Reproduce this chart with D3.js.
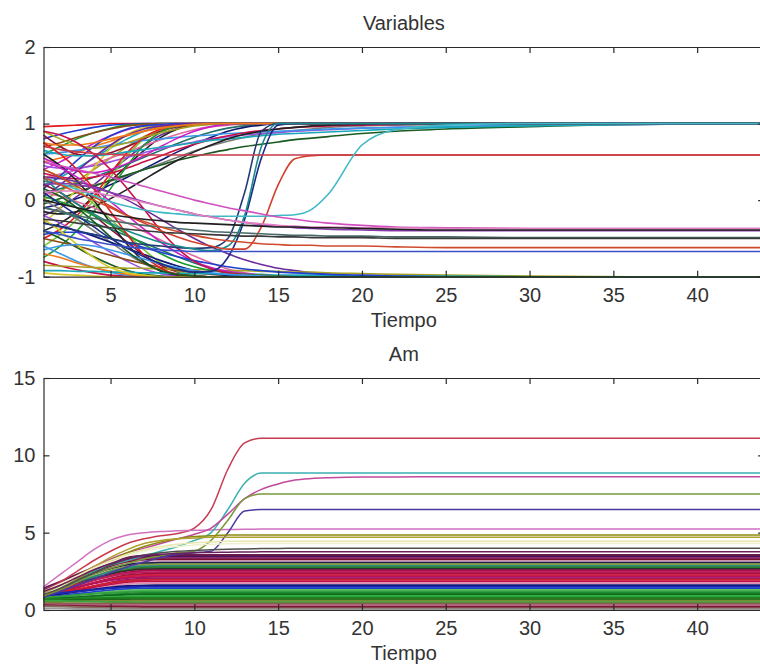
<!DOCTYPE html>
<html>
<head>
<meta charset="utf-8">
<script src="https://cdn.jsdelivr.net/npm/d3@7"></script>
<style>
  body { margin: 0; background: #fff; }
  svg { display: block; }
  .axis text { font-family: 'Liberation Sans', Arial, sans-serif; font-size: 20px; fill: #333; }
  .axis path, .axis line { stroke: #2a2a2a; stroke-width: 1.2px; }
  .label { font-family: 'Liberation Sans', Arial, sans-serif; font-size: 20px; fill: #333; text-anchor: middle; }
</style>
</head>
<body>
<svg width="760" height="671"></svg>
<script>
// time steps shared by every series
var tiempo = [1,2,3,4,5,6,7,8, 9,10,11,12,13,14,15,16, 17,18,20,22,25,30,36,44];
var xTicks = [5,10,15,20,25,30,35,40];
var varTicks = [-1,0,1,2];
var amTicks = [0,5,10,15];

// "Variables": series that go to +1
var varRise = [
  [0.96,0.97,0.98,0.99,1,1,1,1, 1,1,1,1,1,1,1,1, 1,1,1,1,1,1,1,1],
  [0.8,0.86,0.91,0.95,0.98,0.99,1,1, 1,1,1,1,1,1,1,1, 1,1,1,1,1,1,1,1],
  [0.6,0.7,0.8,0.88,0.94,0.98,0.99,1, 1,1,1,1,1,1,1,1, 1,1,1,1,1,1,1,1],
  [0.4,0.5,0.62,0.74,0.84,0.92,0.97,0.99, 1,1,1,1,1,1,1,1, 1,1,1,1,1,1,1,1],
  [0.2,0.3,0.42,0.55,0.68,0.8,0.9,0.96, 0.99,1,1,1,1,1,1,1, 1,1,1,1,1,1,1,1],
  [0,0.12,0.25,0.4,0.55,0.7,0.83,0.92, 0.97,0.99,1,1,1,1,1,1, 1,1,1,1,1,1,1,1],
  [-0.2,-0.1,0.05,0.2,0.38,0.55,0.72,0.85, 0.94,0.98,1,1,1,1,1,1, 1,1,1,1,1,1,1,1],
  [-0.4,-0.3,-0.15,0.05,0.25,0.45,0.65,0.82, 0.93,0.98,1,1,1,1,1,1, 1,1,1,1,1,1,1,1],
  [0.5,0.55,0.62,0.7,0.77,0.84,0.9,0.95, 0.98,0.99,1,1,1,1,1,1, 1,1,1,1,1,1,1,1],
  [0.3,0.34,0.4,0.47,0.55,0.63,0.71,0.79, 0.86,0.92,0.96,0.98,0.99,1,1,1, 1,1,1,1,1,1,1,1],
  [0.1,0.15,0.22,0.3,0.38,0.47,0.56,0.65, 0.74,0.82,0.89,0.94,0.97,0.99,1,1, 1,1,1,1,1,1,1,1],
  [-0.1,-0.05,0.02,0.1,0.2,0.3,0.41,0.52, 0.63,0.73,0.82,0.9,0.95,0.98,1,1, 1,1,1,1,1,1,1,1],
  [0.7,0.75,0.82,0.88,0.93,0.97,0.99,1, 1,1,1,1,1,1,1,1, 1,1,1,1,1,1,1,1],
  [-0.6,-0.45,-0.25,0,0.3,0.58,0.8,0.93, 0.98,1,1,1,1,1,1,1, 1,1,1,1,1,1,1,1],
  [0.85,0.7,0.6,0.58,0.62,0.7,0.8,0.9, 0.96,0.99,1,1,1,1,1,1, 1,1,1,1,1,1,1,1],
  [0.25,0.2,0.18,0.2,0.25,0.32,0.4,0.48, 0.56,0.64,0.71,0.77,0.82,0.86,0.89,0.91, 0.93,0.95,0.97,0.98,0.99,1,1,1],
  [0.45,0.42,0.42,0.45,0.5,0.56,0.62,0.67, 0.72,0.76,0.8,0.83,0.85,0.87,0.88,0.9, 0.91,0.92,0.94,0.95,0.96,0.98,0.99,1],
  [-0.05,0.02,0.1,0.18,0.26,0.33,0.4,0.46, 0.52,0.57,0.62,0.66,0.7,0.73,0.76,0.79, 0.81,0.83,0.87,0.9,0.93,0.96,0.99,1],
  [0.6,0.62,0.65,0.68,0.72,0.75,0.78,0.8, 0.82,0.84,0.85,0.87,0.88,0.89,0.9,0.91, 0.92,0.93,0.94,0.95,0.96,0.98,0.99,1],
  [0.35,0.3,0.28,0.3,0.35,0.42,0.5,0.58, 0.66,0.73,0.79,0.84,0.88,0.91,0.93,0.95, 0.96,0.97,0.98,0.99,1,1,1,1],
  [-0.3,-0.1,0.15,0.42,0.68,0.86,0.95,0.99, 1,1,1,1,1,1,1,1, 1,1,1,1,1,1,1,1],
  [-0.5,-0.38,-0.2,0.05,0.35,0.62,0.82,0.93, 0.98,1,1,1,1,1,1,1, 1,1,1,1,1,1,1,1],
  [0.15,0.32,0.52,0.7,0.84,0.93,0.97,0.99, 1,1,1,1,1,1,1,1, 1,1,1,1,1,1,1,1],
  [-0.75,-0.6,-0.4,-0.15,0.15,0.45,0.72,0.89, 0.97,0.99,1,1,1,1,1,1, 1,1,1,1,1,1,1,1],
  [0.55,0.45,0.38,0.36,0.4,0.48,0.58,0.7, 0.81,0.9,0.96,0.99,1,1,1,1, 1,1,1,1,1,1,1,1],
  [0.65,0.6,0.58,0.58,0.6,0.63,0.66,0.69, 0.72,0.75,0.78,0.8,0.82,0.84,0.86,0.87, 0.88,0.89,0.91,0.93,0.95,0.97,0.99,1],
  [0.9,0.8,0.72,0.68,0.7,0.75,0.82,0.88, 0.93,0.97,0.99,1,1,1,1,1, 1,1,1,1,1,1,1,1],
  [0.05,0.2,0.38,0.56,0.72,0.85,0.93,0.97, 0.99,1,1,1,1,1,1,1, 1,1,1,1,1,1,1,1],
  [-0.15,-0.18,-0.15,-0.08,0.02,0.14,0.27,0.4, 0.52,0.63,0.72,0.8,0.86,0.9,0.93,0.95, 0.97,0.98,0.99,1,1,1,1,1],
  [0.75,0.72,0.72,0.75,0.8,0.85,0.9,0.94, 0.97,0.99,1,1,1,1,1,1, 1,1,1,1,1,1,1,1]
];

// "Variables": series that go to -1
var varFall = [
  [-0.95,-0.97,-0.98,-0.99,-1,-1,-1,-1, -1,-1,-1,-1,-1,-1,-1,-1, -1,-1,-1,-1,-1,-1,-1,-1],
  [-0.8,-0.86,-0.91,-0.95,-0.98,-0.99,-1,-1, -1,-1,-1,-1,-1,-1,-1,-1, -1,-1,-1,-1,-1,-1,-1,-1],
  [-0.6,-0.7,-0.8,-0.88,-0.94,-0.98,-0.99,-1, -1,-1,-1,-1,-1,-1,-1,-1, -1,-1,-1,-1,-1,-1,-1,-1],
  [-0.4,-0.5,-0.62,-0.74,-0.84,-0.92,-0.97,-0.99, -1,-1,-1,-1,-1,-1,-1,-1, -1,-1,-1,-1,-1,-1,-1,-1],
  [-0.2,-0.3,-0.42,-0.55,-0.68,-0.8,-0.9,-0.96, -0.99,-1,-1,-1,-1,-1,-1,-1, -1,-1,-1,-1,-1,-1,-1,-1],
  [0,-0.12,-0.25,-0.4,-0.55,-0.7,-0.83,-0.92, -0.97,-0.99,-1,-1,-1,-1,-1,-1, -1,-1,-1,-1,-1,-1,-1,-1],
  [0.2,0.1,-0.05,-0.2,-0.38,-0.55,-0.72,-0.85, -0.94,-0.98,-1,-1,-1,-1,-1,-1, -1,-1,-1,-1,-1,-1,-1,-1],
  [0.4,0.3,0.15,-0.05,-0.25,-0.45,-0.65,-0.82, -0.93,-0.98,-1,-1,-1,-1,-1,-1, -1,-1,-1,-1,-1,-1,-1,-1],
  [-0.5,-0.55,-0.6,-0.66,-0.72,-0.78,-0.83,-0.88, -0.92,-0.95,-0.97,-0.98,-0.99,-1,-1,-1, -1,-1,-1,-1,-1,-1,-1,-1],
  [-0.3,-0.34,-0.4,-0.47,-0.55,-0.63,-0.71,-0.79, -0.86,-0.92,-0.96,-0.98,-0.99,-1,-1,-1, -1,-1,-1,-1,-1,-1,-1,-1],
  [-0.1,-0.15,-0.22,-0.3,-0.38,-0.47,-0.56,-0.65, -0.74,-0.82,-0.89,-0.94,-0.97,-0.99,-1,-1, -1,-1,-1,-1,-1,-1,-1,-1],
  [0.1,0.05,-0.02,-0.1,-0.2,-0.3,-0.41,-0.52, -0.63,-0.73,-0.82,-0.9,-0.95,-0.98,-1,-1, -1,-1,-1,-1,-1,-1,-1,-1],
  [-0.7,-0.75,-0.82,-0.88,-0.93,-0.97,-0.99,-1, -1,-1,-1,-1,-1,-1,-1,-1, -1,-1,-1,-1,-1,-1,-1,-1],
  [0.6,0.45,0.25,0,-0.3,-0.58,-0.8,-0.93, -0.98,-1,-1,-1,-1,-1,-1,-1, -1,-1,-1,-1,-1,-1,-1,-1],
  [0.3,0.28,0.24,0.18,0.1,0,-0.12,-0.25, -0.38,-0.5,-0.61,-0.7,-0.78,-0.84,-0.89,-0.92, -0.95,-0.97,-0.99,-1,-1,-1,-1,-1],
  [-0.85,-0.86,-0.87,-0.88,-0.88,-0.89,-0.89,-0.9, -0.9,-0.91,-0.91,-0.92,-0.92,-0.93,-0.93,-0.94, -0.94,-0.95,-0.96,-0.97,-0.98,-0.99,-1,-1],
  [-0.92,-0.92,-0.93,-0.93,-0.94,-0.94,-0.95,-0.95, -0.96,-0.96,-0.96,-0.97,-0.97,-0.97,-0.98,-0.98, -0.98,-0.98,-0.99,-0.99,-0.99,-1,-1,-1],
  [0.5,0.42,0.3,0.15,-0.02,-0.2,-0.38,-0.55, -0.69,-0.8,-0.88,-0.93,-0.96,-0.98,-0.99,-1, -1,-1,-1,-1,-1,-1,-1,-1],
  [0.05,-0.02,-0.1,-0.2,-0.32,-0.45,-0.58,-0.7, -0.8,-0.87,-0.92,-0.95,-0.97,-0.98,-0.99,-1, -1,-1,-1,-1,-1,-1,-1,-1],
  [-0.45,-0.42,-0.42,-0.45,-0.5,-0.56,-0.62,-0.68, -0.74,-0.79,-0.83,-0.87,-0.9,-0.92,-0.94,-0.95, -0.96,-0.97,-0.98,-0.99,-1,-1,-1,-1],
  [0.75,0.6,0.4,0.15,-0.15,-0.45,-0.72,-0.89, -0.97,-0.99,-1,-1,-1,-1,-1,-1, -1,-1,-1,-1,-1,-1,-1,-1],
  [-0.25,-0.4,-0.58,-0.75,-0.88,-0.95,-0.98,-1, -1,-1,-1,-1,-1,-1,-1,-1, -1,-1,-1,-1,-1,-1,-1,-1],
  [0.9,0.85,0.75,0.6,0.4,0.15,-0.12,-0.4, -0.63,-0.8,-0.9,-0.95,-0.98,-0.99,-1,-1, -1,-1,-1,-1,-1,-1,-1,-1],
  [-0.65,-0.6,-0.58,-0.6,-0.65,-0.71,-0.77,-0.83, -0.88,-0.92,-0.95,-0.97,-0.98,-0.99,-1,-1, -1,-1,-1,-1,-1,-1,-1,-1],
  [0.15,0.05,-0.1,-0.28,-0.48,-0.67,-0.82,-0.92, -0.97,-0.99,-1,-1,-1,-1,-1,-1, -1,-1,-1,-1,-1,-1,-1,-1]
];

// "Variables": late switchers and intermediate values
var varMid = [
  [0.1,-0.05,-0.2,-0.35,-0.5,-0.63,-0.74,-0.83, -0.9,-0.94,-0.93,-0.75,-0.25,0.55,0.98,1, 1,1,1,1,1,1,1,1],
  [-0.3,-0.35,-0.4,-0.45,-0.5,-0.55,-0.58,-0.6, -0.62,-0.63,-0.62,-0.5,0.1,0.9,1,1, 1,1,1,1,1,1,1,1],
  [0.3,0.1,-0.05,-0.18,-0.3,-0.4,-0.48,-0.55, -0.6,-0.64,-0.66,-0.6,-0.2,0.7,1,1, 1,1,1,1,1,1,1,1],
  [0.4,0.3,0.18,0.05,-0.08,-0.2,-0.3,-0.4, -0.48,-0.55,-0.6,-0.64,-0.64,-0.35,0.2,0.54, 0.58,0.59,0.59,0.59,0.59,0.59,0.59,0.59],
  [0.7,0.66,0.63,0.61,0.6,0.59,0.59,0.59, 0.59,0.59,0.59,0.59,0.59,0.59,0.59,0.59, 0.59,0.59,0.59,0.59,0.59,0.59,0.59,0.59],
  [0.3,0.22,0.14,0.06,-0.02,-0.08,-0.13,-0.16, -0.18,-0.2,-0.21,-0.21,-0.21,-0.21,-0.2,-0.19, -0.12,0.08,0.72,0.92,0.98,1,1,1],
  [0.5,0.45,0.4,0.35,0.3,0.24,0.18,0.12, 0.06,0,-0.05,-0.1,-0.14,-0.18,-0.22,-0.25, -0.28,-0.3,-0.33,-0.35,-0.36,-0.37,-0.37,-0.37],
  [0.2,0.22,0.2,0.16,0.1,0.04,-0.02,-0.08, -0.13,-0.18,-0.22,-0.26,-0.29,-0.32,-0.34,-0.36, -0.37,-0.38,-0.39,-0.4,-0.4,-0.4,-0.4,-0.4],
  [-0.1,-0.15,-0.2,-0.24,-0.27,-0.3,-0.33,-0.35, -0.37,-0.39,-0.41,-0.42,-0.43,-0.44,-0.45,-0.46, -0.46,-0.47,-0.47,-0.48,-0.48,-0.49,-0.49,-0.49],
  [0.3,0.2,0.1,0,-0.1,-0.2,-0.28,-0.35, -0.41,-0.46,-0.5,-0.53,-0.55,-0.57,-0.58,-0.59, -0.59,-0.6,-0.6,-0.61,-0.62,-0.62,-0.62,-0.62],
  [-0.4,-0.45,-0.5,-0.54,-0.58,-0.61,-0.63,-0.65, -0.66,-0.67,-0.67,-0.67,-0.67,-0.67,-0.67,-0.67, -0.67,-0.67,-0.67,-0.67,-0.67,-0.67,-0.67,-0.67],
  [-0.25,-0.27,-0.3,-0.33,-0.36,-0.38,-0.4,-0.42, -0.43,-0.44,-0.45,-0.46,-0.47,-0.47,-0.48,-0.48, -0.49,-0.49,-0.49,-0.5,-0.5,-0.5,-0.5,-0.5],
  [0.1,0.12,0.12,0.1,0.06,0.02,-0.03,-0.08, -0.13,-0.18,-0.22,-0.26,-0.29,-0.31,-0.33,-0.34, -0.35,-0.35,-0.36,-0.36,-0.37,-0.37,-0.37,-0.37],
  [0,-0.05,-0.1,-0.15,-0.19,-0.22,-0.25,-0.27, -0.29,-0.3,-0.31,-0.32,-0.33,-0.34,-0.35,-0.35, -0.36,-0.36,-0.37,-0.38,-0.39,-0.39,-0.39,-0.39]
];

// "Am": the few series that climb high
var amUpper = [
  [1.2,1.8,2.5,3.2,3.8,4.3,4.6,4.8, 4.95,5.3,6.5,9.1,10.8,11.1,11.1,11.1, 11.1,11.1,11.1,11.1,11.1,11.1,11.1,11.1],
  [1.5,2.3,3.1,3.9,4.5,4.85,5,5.08, 5.12,5.15,5.18,5.2,5.22,5.23,5.24,5.24, 5.24,5.24,5.24,5.24,5.24,5.24,5.24,5.24],
  [1,1.5,2,2.5,2.9,3.2,3.5,3.8, 4.1,4.5,5,6.5,8.2,8.85,8.85,8.85, 8.85,8.85,8.85,8.85,8.85,8.85,8.85,8.85],
  [1.1,1.6,2.2,2.8,3.3,3.7,4,4.3, 4.6,4.9,5.3,6.2,7.2,7.8,8.15,8.4, 8.5,8.55,8.6,8.6,8.62,8.62,8.62,8.62],
  [0.9,1.3,1.8,2.3,2.7,3,3.3,3.5, 3.7,3.8,4.5,5.8,7.2,7.5,7.5,7.5, 7.5,7.5,7.5,7.5,7.5,7.5,7.5,7.5],
  [0.8,1.2,1.6,2,2.4,2.8,3.1,3.4, 3.6,3.7,3.8,5,6.4,6.5,6.5,6.5, 6.5,6.5,6.5,6.5,6.5,6.5,6.5,6.5],
  [0.9,1.4,2,2.6,3.2,3.7,4.1,4.4, 4.6,4.75,4.8,4.85,4.85,4.85,4.85,4.85, 4.85,4.85,4.85,4.85,4.85,4.85,4.85,4.85],
  [1.1,1.6,2.2,2.8,3.4,3.9,4.3,4.5, 4.6,4.65,4.7,4.7,4.7,4.7,4.7,4.7, 4.7,4.7,4.7,4.7,4.7,4.7,4.7,4.7],
  [1,1.5,2.1,2.7,3.2,3.6,3.9,4.1, 4.25,4.35,4.4,4.45,4.45,4.45,4.45,4.45, 4.45,4.45,4.45,4.45,4.45,4.45,4.45,4.45],
  [1.2,1.7,2.2,2.7,3.1,3.5,3.8,4, 4.1,4.2,4.25,4.28,4.3,4.3,4.3,4.3, 4.3,4.3,4.3,4.3,4.3,4.3,4.3,4.3],
  [1,1.4,1.9,2.4,2.9,3.3,3.55,3.7, 3.8,3.85,3.9,3.93,3.95,3.97,3.98,3.99, 3.99,3.99,3.99,3.99,3.99,3.99,3.99,3.99],
  [1.2,1.6,2.1,2.6,3,3.3,3.5,3.6, 3.65,3.7,3.72,3.74,3.75,3.76,3.77,3.77, 3.77,3.77,3.77,3.77,3.77,3.77,3.77,3.77]
];

// "Am": the dense band below 3.6
var amLower = [
  [1.4,1.83,2.3,2.73,3.12,3.4,3.53,3.55, 3.55,3.55,3.55,3.55,3.55,3.55,3.55,3.55, 3.55,3.55,3.55,3.55,3.55,3.55,3.55,3.55],
  [1.2,1.65,2.15,2.6,3,3.29,3.43,3.45, 3.45,3.45,3.45,3.45,3.45,3.45,3.45,3.45, 3.45,3.45,3.45,3.45,3.45,3.45,3.45,3.45],
  [1.3,1.71,2.16,2.57,2.94,3.21,3.33,3.35, 3.35,3.35,3.35,3.35,3.35,3.35,3.35,3.35, 3.35,3.35,3.35,3.35,3.35,3.35,3.35,3.35],
  [1.1,1.53,2,2.43,2.82,3.1,3.23,3.25, 3.25,3.25,3.25,3.25,3.25,3.25,3.25,3.25, 3.25,3.25,3.25,3.25,3.25,3.25,3.25,3.25],
  [1,1.43,1.9,2.33,2.72,3,3.13,3.15, 3.15,3.15,3.15,3.15,3.15,3.15,3.15,3.15, 3.15,3.15,3.15,3.15,3.15,3.15,3.15,3.15],
  [1.2,1.57,1.98,2.35,2.68,2.92,3.03,3.05, 3.05,3.05,3.05,3.05,3.05,3.05,3.05,3.05, 3.05,3.05,3.05,3.05,3.05,3.05,3.05,3.05],
  [0.9,1.31,1.76,2.17,2.54,2.81,2.93,2.95, 2.95,2.95,2.95,2.95,2.95,2.95,2.95,2.95, 2.95,2.95,2.95,2.95,2.95,2.95,2.95,2.95],
  [1,1.37,1.78,2.15,2.48,2.72,2.83,2.85, 2.85,2.85,2.85,2.85,2.85,2.85,2.85,2.85, 2.85,2.85,2.85,2.85,2.85,2.85,2.85,2.85],
  [0.8,1.19,1.62,2.01,2.36,2.61,2.73,2.75, 2.75,2.75,2.75,2.75,2.75,2.75,2.75,2.75, 2.75,2.75,2.75,2.75,2.75,2.75,2.75,2.75],
  [1,1.33,1.69,2.02,2.32,2.53,2.63,2.65, 2.65,2.65,2.65,2.65,2.65,2.65,2.65,2.65, 2.65,2.65,2.65,2.65,2.65,2.65,2.65,2.65],
  [0.9,1.23,1.59,1.92,2.22,2.43,2.53,2.55, 2.55,2.55,2.55,2.55,2.55,2.55,2.55,2.55, 2.55,2.55,2.55,2.55,2.55,2.55,2.55,2.55],
  [1.1,1.37,1.67,1.94,2.18,2.36,2.44,2.45, 2.45,2.45,2.45,2.45,2.45,2.45,2.45,2.45, 2.45,2.45,2.45,2.45,2.45,2.45,2.45,2.45],
  [0.8,1.11,1.45,1.76,2.04,2.24,2.33,2.35, 2.35,2.35,2.35,2.35,2.35,2.35,2.35,2.35, 2.35,2.35,2.35,2.35,2.35,2.35,2.35,2.35],
  [0.9,1.17,1.47,1.74,1.98,2.16,2.24,2.25, 2.25,2.25,2.25,2.25,2.25,2.25,2.25,2.25, 2.25,2.25,2.25,2.25,2.25,2.25,2.25,2.25],
  [1,1.23,1.48,1.71,1.92,2.07,2.14,2.15, 2.15,2.15,2.15,2.15,2.15,2.15,2.15,2.15, 2.15,2.15,2.15,2.15,2.15,2.15,2.15,2.15],
  [0.7,0.97,1.27,1.54,1.78,1.96,2.04,2.05, 2.05,2.05,2.05,2.05,2.05,2.05,2.05,2.05, 2.05,2.05,2.05,2.05,2.05,2.05,2.05,2.05],
  [0.9,1.11,1.34,1.55,1.74,1.88,1.94,1.95, 1.95,1.95,1.95,1.95,1.95,1.95,1.95,1.95, 1.95,1.95,1.95,1.95,1.95,1.95,1.95,1.95],
  [0.8,1.01,1.24,1.45,1.64,1.78,1.84,1.85, 1.85,1.85,1.85,1.85,1.85,1.85,1.85,1.85, 1.85,1.85,1.85,1.85,1.85,1.85,1.85,1.85],
  [0.7,0.91,1.14,1.35,1.54,1.68,1.74,1.75, 1.75,1.75,1.75,1.75,1.75,1.75,1.75,1.75, 1.75,1.75,1.75,1.75,1.75,1.75,1.75,1.75],
  [0.9,1.04,1.19,1.33,1.46,1.55,1.59,1.6, 1.6,1.6,1.6,1.6,1.6,1.6,1.6,1.6, 1.6,1.6,1.6,1.6,1.6,1.6,1.6,1.6],
  [1,1.1,1.21,1.31,1.4,1.47,1.5,1.5, 1.5,1.5,1.5,1.5,1.5,1.5,1.5,1.5, 1.5,1.5,1.5,1.5,1.5,1.5,1.5,1.5],
  [0.8,0.92,1.05,1.17,1.28,1.36,1.39,1.4, 1.4,1.4,1.4,1.4,1.4,1.4,1.4,1.4, 1.4,1.4,1.4,1.4,1.4,1.4,1.4,1.4],
  [0.7,0.82,0.95,1.07,1.18,1.26,1.29,1.3, 1.3,1.3,1.3,1.3,1.3,1.3,1.3,1.3, 1.3,1.3,1.3,1.3,1.3,1.3,1.3,1.3],
  [0.8,0.88,0.97,1.05,1.12,1.17,1.2,1.2, 1.2,1.2,1.2,1.2,1.2,1.2,1.2,1.2, 1.2,1.2,1.2,1.2,1.2,1.2,1.2,1.2],
  [0.6,0.7,0.81,0.91,1,1.07,1.1,1.1, 1.1,1.1,1.1,1.1,1.1,1.1,1.1,1.1, 1.1,1.1,1.1,1.1,1.1,1.1,1.1,1.1],
  [0.7,0.76,0.83,0.89,0.94,0.98,1,1, 1,1,1,1,1,1,1,1, 1,1,1,1,1,1,1,1],
  [0.6,0.66,0.73,0.79,0.84,0.88,0.9,0.9, 0.9,0.9,0.9,0.9,0.9,0.9,0.9,0.9, 0.9,0.9,0.9,0.9,0.9,0.9,0.9,0.9],
  [0.7,0.72,0.74,0.76,0.78,0.79,0.8,0.8, 0.8,0.8,0.8,0.8,0.8,0.8,0.8,0.8, 0.8,0.8,0.8,0.8,0.8,0.8,0.8,0.8],
  [0.6,0.62,0.64,0.66,0.68,0.69,0.7,0.7, 0.7,0.7,0.7,0.7,0.7,0.7,0.7,0.7, 0.7,0.7,0.7,0.7,0.7,0.7,0.7,0.7],
  [0.5,0.52,0.54,0.56,0.58,0.59,0.6,0.6, 0.6,0.6,0.6,0.6,0.6,0.6,0.6,0.6, 0.6,0.6,0.6,0.6,0.6,0.6,0.6,0.6],
  [0.6,0.58,0.56,0.54,0.52,0.51,0.5,0.5, 0.5,0.5,0.5,0.5,0.5,0.5,0.5,0.5, 0.5,0.5,0.5,0.5,0.5,0.5,0.5,0.5],
  [0.4,0.4,0.4,0.4,0.4,0.4,0.4,0.4, 0.4,0.4,0.4,0.4,0.4,0.4,0.4,0.4, 0.4,0.4,0.4,0.4,0.4,0.4,0.4,0.4],
  [0.35,0.34,0.33,0.32,0.31,0.3,0.3,0.3, 0.3,0.3,0.3,0.3,0.3,0.3,0.3,0.3, 0.3,0.3,0.3,0.3,0.3,0.3,0.3,0.3],
  [0.3,0.28,0.26,0.24,0.22,0.21,0.2,0.2, 0.2,0.2,0.2,0.2,0.2,0.2,0.2,0.2, 0.2,0.2,0.2,0.2,0.2,0.2,0.2,0.2],
  [0.25,0.22,0.19,0.16,0.13,0.11,0.1,0.1, 0.1,0.1,0.1,0.1,0.1,0.1,0.1,0.1, 0.1,0.1,0.1,0.1,0.1,0.1,0.1,0.1],
  [0.1,0.09,0.07,0.06,0.05,0.04,0.03,0.03, 0.03,0.03,0.03,0.03,0.03,0.03,0.03,0.03, 0.03,0.03,0.03,0.03,0.03,0.03,0.03,0.03]
];

// line colours (random-looking, like the original)
var palette = ['#e41a1c','#1f3fd0','#1a9a30','#c81ec8','#18a8b8','#a8a020','#6a2a9a','#222222','#f07818','#e06aa0',
               '#20706a','#101870','#8a4a1a','#78c83a','#8a1038','#7a7a7a','#9a50e0','#1a5a20','#3a98e8','#c8104a','#d8c828'];
var midColors = ['#1a2a8a','#203a7a','#1a8a8a','#d0402a','#c83a4a','#40b8c8','#d050c0','#8a3ab0','#4a6a6a','#d04a30',
                 '#3a50c8','#3a3a3a','#e080c0','#202020'];
var upperColors = ['#c83a50','#d070c0','#3ab0b0','#c04a9a','#7a9a3a','#4a3aa0','#8a8a10','#b0a030','#e8e8b0','#f0f0d0',
                   '#505050','#6a2060'];
var lowerColors = ['#6a1a4a','#501060','#8a2a6a','#7a1030','#d8b0c8','#202050','#8aa040','#2a8a7a','#2a7a2a','#303030',
                   '#b01050','#c0205a','#a01040','#d02040','#b8105a','#9a1a6a','#d02030','#c01048','#e090b0','#101070',
                   '#1a2ab0','#2040d0','#60c060','#30a040','#208a30','#106a20','#30b040','#208020','#1a6a1a','#7a8a30',
                   '#40a040','#8a5a4a','#b06080','#801838','#8a6a5a','#9a9a9a'];

var svg = d3.select('svg');

var xLeft = 43.5, xRight = 764.2;
var x = d3.scaleLinear().domain([1, 44]).range([xLeft, xRight]);

function drawPanel(y, yTicks, groups, title) {
    var top = y.range()[1], bottom = y.range()[0];
    var g = svg.append('g');

    var line = d3.line()
        .x(function(d, i) { return x(tiempo[i]); })
        .y(function(d) { return y(d); })
        .curve(d3.curveMonotoneX);

    groups.forEach(function(grp) {
        g.append('g').selectAll('path')
            .data(grp.series)
            .enter()
            .append('path')
            .attr('d', line)
            .attr('fill', 'none')
            .attr('stroke', function(d, i) { return grp.colors[i % grp.colors.length]; })
            .attr('stroke-width', grp.width);
    });

    // box with inward ticks
    g.append('g').attr('class', 'axis')
        .attr('transform', 'translate(0,' + bottom + ')')
        .call(d3.axisBottom(x).tickValues(xTicks).tickSizeInner(-6).tickSizeOuter(0).tickPadding(11)
            .tickFormat(function(d) { return String(d); }));
    g.append('g').attr('class', 'axis')
        .attr('transform', 'translate(0,' + top + ')')
        .call(d3.axisTop(x).tickValues(xTicks).tickSizeInner(-6).tickSizeOuter(0).tickFormat(''));
    g.append('g').attr('class', 'axis')
        .attr('transform', 'translate(' + xLeft + ',0)')
        .call(d3.axisLeft(y).tickValues(yTicks).tickSizeInner(-6).tickSizeOuter(0).tickPadding(8)
            .tickFormat(function(d) { return String(d); }));
    g.append('g').attr('class', 'axis')
        .attr('transform', 'translate(' + xRight + ',0)')
        .call(d3.axisRight(y).tickValues(yTicks).tickSizeInner(-6).tickSizeOuter(0).tickFormat(''));

    var cx = (xLeft + xRight) / 2;
    svg.append('text').attr('class', 'label')
        .attr('x', cx).attr('y', top - 17)
        .text(title);
    svg.append('text').attr('class', 'label')
        .attr('x', cx).attr('y', bottom + 50)
        .text('Tiempo');
}

var yVar = d3.scaleLinear().domain([-1, 2]).range([276.7, 47]);
drawPanel(yVar, varTicks, [
    {series: varRise, colors: palette, width: 1.6},
    {series: varFall, colors: palette.slice().reverse(), width: 1.6},
    {series: varMid, colors: midColors, width: 1.6}
], 'Variables');

var yAm = d3.scaleLinear().domain([0, 15]).range([610, 378]);
drawPanel(yAm, amTicks, [
    {series: amLower, colors: lowerColors, width: 2},
    {series: amUpper, colors: upperColors, width: 1.5}
], 'Am');
</script>
</body>
</html>
